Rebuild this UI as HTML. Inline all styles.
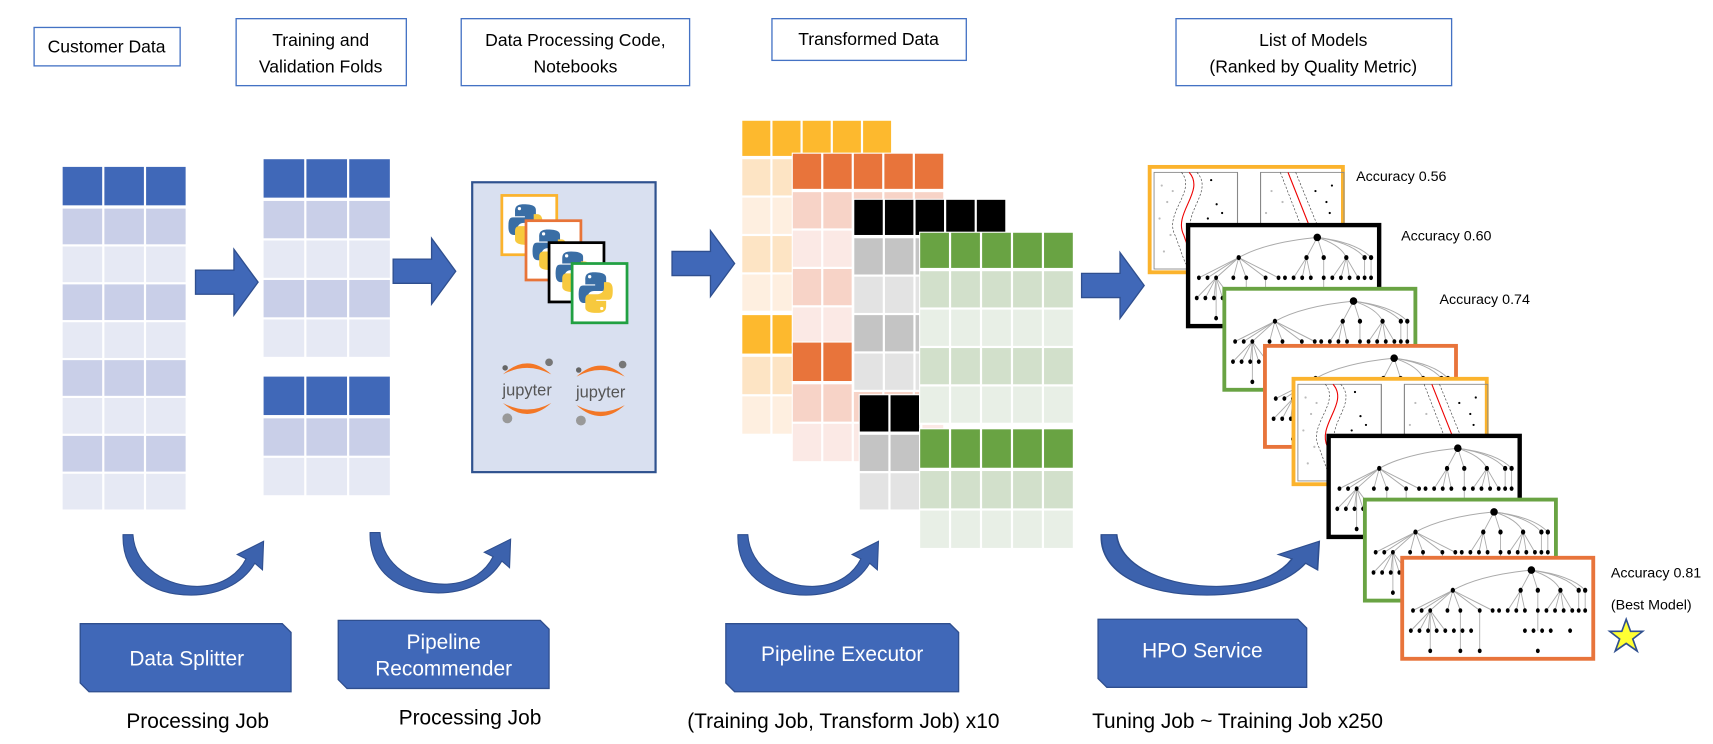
<!DOCTYPE html>
<html><head><meta charset="utf-8"><style>
html,body{margin:0;padding:0;background:#fff;}
svg{display:block;}
text{font-family:"Liberation Sans",sans-serif;}
</style></head><body>
<svg id="s" width="1713" height="744" viewBox="0 0 1560 677.6" xmlns="http://www.w3.org/2000/svg">
<defs>
<g id="tree">
  <g stroke="#aaa" stroke-width="0.8" fill="none">
    <path d="M118,8 Q70,12 45,24"/><path d="M118,8 L108,24"/><path d="M118,8 L124,24"/><path d="M118,8 Q140,14 145,24"/><path d="M118,8 Q150,12 162,24"/><path d="M118,8 Q155,12 168,24"/>
    <path d="M45,24 L8,40"/><path d="M45,24 L16,40"/><path d="M45,24 L24,40"/><path d="M45,24 L40,40"/><path d="M45,24 L52,40"/><path d="M45,24 L70,40"/><path d="M45,24 L82,40"/>
    <path d="M108,24 L96,40"/><path d="M108,24 L104,40"/><path d="M108,24 L112,40"/><path d="M124,24 L124,40"/>
    <path d="M145,24 L132,40"/><path d="M145,24 L140,40"/><path d="M145,24 L148,40"/><path d="M145,24 L156,40"/><path d="M162,24 L162,40"/><path d="M168,24 L168,40"/>
    <path d="M24,40 L6,56"/><path d="M24,40 L14,56"/><path d="M24,40 L22,56"/><path d="M24,40 L30,56"/><path d="M24,40 L38,56"/><path d="M24,40 L24,72"/>
    <path d="M52,40 L52,72"/><path d="M70,40 L70,72"/><path d="M124,40 L124,56"/>
  </g>
  <g fill="#000">
    <ellipse cx="118" cy="8" rx="3.5" ry="3"/>
    <circle cx="45" cy="24" r="2"/><circle cx="108" cy="24" r="2"/><circle cx="124" cy="24" r="2"/><circle cx="145" cy="24" r="2"/><circle cx="162" cy="24" r="2"/><circle cx="168" cy="24" r="2"/>
    <circle cx="8" cy="40" r="1.8"/><circle cx="16" cy="40" r="1.8"/><circle cx="24" cy="40" r="1.8"/><circle cx="40" cy="40" r="1.8"/><circle cx="52" cy="40" r="1.8"/><circle cx="70" cy="40" r="1.8"/><circle cx="82" cy="40" r="1.8"/><circle cx="88" cy="40" r="1.8"/><circle cx="96" cy="40" r="1.8"/><circle cx="104" cy="40" r="1.8"/><circle cx="112" cy="40" r="1.8"/><circle cx="124" cy="40" r="1.8"/><circle cx="132" cy="40" r="1.8"/><circle cx="140" cy="40" r="1.8"/><circle cx="148" cy="40" r="1.8"/><circle cx="156" cy="40" r="1.8"/><circle cx="162" cy="40" r="1.8"/><circle cx="168" cy="40" r="1.8"/>
    <circle cx="6" cy="56" r="1.8"/><circle cx="14" cy="56" r="1.8"/><circle cx="22" cy="56" r="1.8"/><circle cx="30" cy="56" r="1.8"/><circle cx="38" cy="56" r="1.8"/><circle cx="46" cy="56" r="1.8"/><circle cx="54" cy="56" r="1.8"/><circle cx="62" cy="56" r="1.8"/><circle cx="112" cy="56" r="1.8"/><circle cx="120" cy="56" r="1.8"/><circle cx="128" cy="56" r="1.8"/><circle cx="136" cy="56" r="1.8"/><circle cx="154" cy="56" r="1.8"/>
    <circle cx="24" cy="72" r="1.8"/><circle cx="52" cy="72" r="1.8"/><circle cx="70" cy="72" r="1.8"/><circle cx="124" cy="72" r="1.8"/>
  </g>
</g>
<g id="svm">
  <rect x="3" y="3" width="76" height="88" fill="none" stroke="#888" stroke-width="0.8"/>
  <rect x="100" y="3" width="76" height="88" fill="none" stroke="#888" stroke-width="0.8"/>
  <line x1="79" y1="50" x2="79" y2="3" stroke="#888"/><line x1="100" y1="50" x2="100" y2="3" stroke="#888"/>
  <line x1="70" y1="51" x2="110" y2="51" stroke="#777"/>
  <path d="M35,3 C50,20 20,40 30,60 C35,75 40,85 45,91" stroke="#e00" fill="none" stroke-width="1"/>
  <path d="M28,3 C42,20 12,40 22,60 C28,75 30,85 35,91" stroke="#444" fill="none" stroke-width="0.6" stroke-dasharray="2,1.5"/>
  <path d="M42,3 C58,20 28,40 38,60 C42,75 48,85 55,91" stroke="#444" fill="none" stroke-width="0.6" stroke-dasharray="2,1.5"/>
  <path d="M125,3 L160,91" stroke="#e00" fill="none" stroke-width="1"/>
  <path d="M118,3 L152,91 M132,3 L168,91" stroke="#444" fill="none" stroke-width="0.6" stroke-dasharray="2,1.5"/>
  <g fill="#bbb"><circle cx="10" cy="15" r="1"/><circle cx="15" cy="30" r="1"/><circle cx="8" cy="45" r="1"/><circle cx="18" cy="60" r="1"/><circle cx="12" cy="75" r="1"/><circle cx="20" cy="20" r="1"/><circle cx="110" cy="20" r="1"/><circle cx="105" cy="40" r="1"/><circle cx="115" cy="60" r="1"/><circle cx="120" cy="30" r="1"/><circle cx="112" cy="80" r="1"/></g>
  <g fill="#000"><circle cx="55" cy="10" r="1"/><circle cx="60" cy="32" r="1"/><circle cx="65" cy="40" r="1"/><circle cx="52" cy="45" r="1"/><circle cx="150" cy="20" r="1"/><circle cx="165" cy="15" r="1"/><circle cx="160" cy="30" r="1"/><circle cx="163" cy="40" r="1"/></g>
</g>
<g id="py">
  <path d="M14,3 C6,3 6,7 6,10 L6,14 L15,14 L15,15 L4,15 C0,15 0,20 0,24 C0,29 2,31 5,31 L8,31 L8,26 C8,22 11,20 14,20 L21,20 C24,20 25,18 25,15 L25,8 C25,5 22,3 14,3 Z" fill="#3a6ea5"/>
  <path d="M17,40 C25,40 25,36 25,33 L25,29 L16,29 L16,28 L27,28 C31,28 31,23 31,19 C31,14 29,12 26,12 L23,12 L23,17 C23,21 20,23 17,23 L10,23 C7,23 6,25 6,28 L6,35 C6,38 9,40 17,40 Z" fill="#f7c93e"/>
  <circle cx="10" cy="7" r="1.5" fill="#fff"/><circle cx="21" cy="36" r="1.5" fill="#fff"/>
</g>
<g id="jup">
  <path d="M-22,-14 Q0,-34 22,-14 Q0,-26 -22,-14 Z" fill="#f37726"/>
  <path d="M-22,12 Q0,32 22,12 Q0,24 -22,12 Z" fill="#f37726"/>
  <circle cx="-20" cy="-20" r="2.5" fill="#666"/><circle cx="20" cy="-25" r="3.5" fill="#777"/><circle cx="-18" cy="26" r="4.5" fill="#999"/>
  <text x="0" y="5" font-size="15" text-anchor="middle" fill="#555">jupyter</text>
</g>
<path id="carrow" d="M0,0 L9,0 C11,30 40,48 70,47 C93,46 106,34 112,22 L104,18 L128,6 L127,32 L120,26 C108,46 85,55 62,55 C25,55 -1,35 0,0 Z" fill="#3c62ad" stroke="#2f4f8f" stroke-width="1"/>
<path id="sarrow" d="M0,-11 L35,-11 L35,-30 L57,0 L35,30 L35,11 L0,11 Z" fill="#4068b8" stroke="#2f4f8f" stroke-width="1.2"/>
</defs>
<g id="g"></g>

<g fill="#fff" stroke="#4472c4" stroke-width="1.2">
<rect x="31" y="25" width="133" height="35"/>
<rect x="215" y="17" width="155" height="61"/>
<rect x="420" y="17" width="208" height="61"/>
<rect x="703" y="17" width="177" height="38"/>
<rect x="1071" y="17" width="251" height="61"/>
</g>
<g font-size="16" text-anchor="middle" fill="#000">
<text x="97" y="48">Customer Data</text>
<text x="292" y="42">Training and</text><text x="292" y="66">Validation Folds</text>
<text x="524" y="42">Data Processing Code,</text><text x="524" y="66">Notebooks</text>
<text x="791" y="41">Transformed Data</text>
<text x="1196" y="42">List of Models</text><text x="1196" y="66">(Ranked by Quality Metric)</text>
</g>

<use href="#sarrow" x="178" y="257"/>
<use href="#sarrow" x="358" y="247"/>
<use href="#sarrow" x="612" y="240"/>
<use href="#sarrow" x="985" y="260"/>

<rect x="430" y="166" width="167" height="264" fill="#d9e0f0" stroke="#2f528f" stroke-width="2"/>
<g stroke-width="2.5" fill="#fff">
<rect x="457" y="178" width="50" height="54" stroke="#fbb32d"/><use href="#py" x="463" y="183"/>
<rect x="479" y="201" width="50" height="54" stroke="#e87438"/><use href="#py" x="485" y="206"/>
<rect x="500" y="221" width="50" height="54" stroke="#000"/><use href="#py" x="506" y="226"/>
<rect x="521" y="240" width="50" height="54" stroke="#21a042"/><use href="#py" x="527" y="245"/>
</g>
<use href="#jup" x="480" y="355"/>
<use href="#jup" x="547" y="357"/>

<g id="cards"></g>

<g font-size="13" fill="#000">
<text x="1235" y="165">Accuracy 0.56</text>
<text x="1276" y="219">Accuracy 0.60</text>
<text x="1311" y="277">Accuracy 0.74</text>
<text x="1467" y="526">Accuracy 0.81</text>
<text x="1467" y="555">(Best Model)</text>
</g>
<path d="M1481,564 L1485,575 L1496,575 L1487,582 L1491,593 L1481,586 L1471,593 L1475,582 L1466,575 L1477,575 Z" fill="#ffff33" stroke="#2f4f8f" stroke-width="1.5"/>

<use href="#carrow" x="112" y="487"/>
<use href="#carrow" x="337" y="485"/>
<use href="#carrow" x="672" y="487"/>
<use href="#carrow" x="1003" y="487" transform="translate(1003,487) scale(1.55,1) translate(-1003,-487)"/>

<g fill="#4068b8" stroke="#2f4f8f" stroke-width="1.2">
<path d="M73,568 L257,568 L265,576 L265,630 L81,630 L73,622 Z"/>
<path d="M308,565 L492,565 L500,573 L500,627 L316,627 L308,619 Z"/>
<path d="M661,568 L865,568 L873,576 L873,630 L669,630 L661,622 Z"/>
<path d="M1000,564 L1182,564 L1190,572 L1190,626 L1008,626 L1000,618 Z"/>
</g>
<g font-size="19" fill="#fff" text-anchor="middle">
<text x="170" y="606">Data Splitter</text>
<text x="404" y="591">Pipeline</text><text x="404" y="615">Recommender</text>
<text x="767" y="602">Pipeline Executor</text>
<text x="1095" y="599">HPO Service</text>
</g>
<g font-size="19" fill="#000" text-anchor="middle">
<text x="180" y="663">Processing Job</text>
<text x="428" y="660">Processing Job</text>
<text x="768" y="663">(Training Job, Transform Job) x10</text>
<text x="1127" y="663">Tuning Job ~ Training Job x250</text>
</g>
</svg>
<script>
var NS="http://www.w3.org/2000/svg";
var g=document.getElementById("g");
function el(p,t,a){var e=document.createElementNS(NS,t);for(var k in a)e.setAttribute(k,a[k]);p.appendChild(e);return e;}
function table(x,y,cols,cw,hh,rh,rows,hc,c1,c2,bg){
  var w=cols*cw,h=hh+rows*rh+2;
  if(bg)el(g,"rect",{x:x-1,y:y-1,width:w+2,height:h+2,fill:"#fff"});
  for(var c=0;c<cols;c++){
    el(g,"rect",{x:x+c*cw,y:y,width:cw-2,height:hh,fill:hc});
    for(var r=0;r<rows;r++){
      el(g,"rect",{x:x+c*cw,y:y+hh+3+r*rh,width:cw-2,height:rh-2,fill:r%2==0?c1:c2});
    }
  }
}
var B="#4068b8",B1="#c9cfe8",B2="#e6e9f4";
table(57,152,3,38,35,34.5,8,B,B1,B2,false);
table(240,145,3,39,35,36,4,B,B1,B2,false);
table(240,343,3,39,35,36,2,B,B1,B2,false);
var Y="#fdb92e",Y1="#fde4c4",Y2="#feefe0",O="#e8743b",O1="#f7d3c7",O2="#fbe9e5",K="#000",K1="#c4c4c4",K2="#e3e3e3",G="#69a343",G1="#d2e0cb",G2="#e8efe6";
table(676,110,5,27.5,32,35,4,Y,Y1,Y2,true);
table(676,287,5,27.5,35,36,2,Y,Y1,Y2,true);
table(722,140,5,27.8,32,35,4,O,O1,O2,true);
table(722,312,5,27.8,35,36,2,O,O1,O2,true);
table(778,182,5,27.9,32,35,4,K,K1,K2,true);
table(836,372,3,28,10,0,0,K,K1,K2,false);
table(783,360,2,28,33,35,2,K,K1,K2,true);
table(838,212,5,28.2,32,35,4,G,G1,G2,true);
table(838,391,5,28.2,35,36,2,G,G1,G2,true);
var cards=document.getElementById("cards");
var list=[[1047,152,"#fbb32d","svm"],[1082,205,"#000","tree"],[1115,263,"#69a343","tree"],[1152,315,"#e8743b","tree"],[1178,345,"#fbb32d","svm"],[1210,397,"#000","tree"],[1243,455,"#69a343","tree"],[1277,508,"#e8743b","tree"]];
list.forEach(function(c){
  var w=c[3]=="svm"?176:174,h=c[3]=="svm"?96:92;
  el(cards,"rect",{x:c[0],y:c[1],width:w,height:h,fill:"#fff",stroke:c[2],"stroke-width":c[2]=="#000"?4:3.5});
  var u=el(cards,"use",{href:"#"+c[3]});
  if(c[3]=="tree")u.setAttribute("transform","translate("+(c[0]+2)+","+(c[1]+2)+") scale(0.98,1.15)");
  else u.setAttribute("transform","translate("+(c[0]+1)+","+(c[1]+2)+")");
});
</script>
</body></html>
